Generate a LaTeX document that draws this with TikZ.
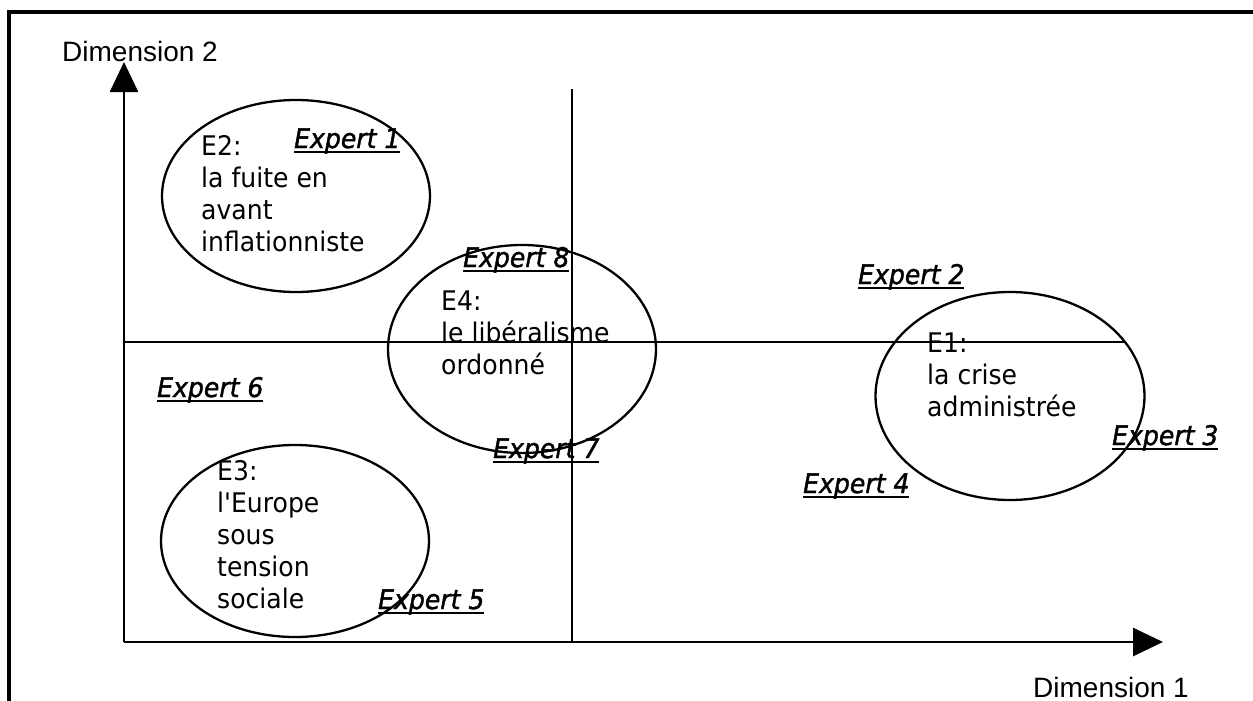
\documentclass[tikz,border=0pt]{standalone}
\usepackage{fontspec}
\setmainfont{DejaVu Sans}[FakeStretch=0.93]
\newfontface\plainfont{DejaVu Sans}[FakeStretch=0.93,Ligatures=ResetAll]
\newfontfamily\dimfont{Liberation Sans}
\newfontface\expfont{DejaVu Sans Oblique}[FakeBold=1.5,FakeStretch=0.93]
\usetikzlibrary{shapes.geometric,arrows.meta}
\newcommand\expul[1]{\setbox0\hbox{\expfont #1}\rlap{\rule[-4.5pt]{\wd0}{2pt}}\box0}
\begin{document}
\begin{tikzpicture}[x=1pt,y=-1pt,
  region/.style={ellipse,draw,line width=2.3pt,inner sep=0},
  lab/.style={anchor=base west,inner sep=0,align=left,font=\fontsize{27}{32}\selectfont},
  expert/.style={anchor=base west,inner sep=0,font=\fontsize{27}{30}\selectfont},
  dim/.style={anchor=base west,inner sep=0,font=\dimfont\fontsize{28}{32}\selectfont},
  axis/.style={line width=2.7pt,-{Triangle[length=30pt,width=28pt]}},
  quad/.style={line width=1.2pt},
  frame/.style={line width=4pt}]
\useasboundingbox (0,0) rectangle (1253,701);
% frame
\draw[frame] (7,12) -- (1253,12);
\draw[frame] (9,10) -- (9,701);
% quadrant lines
\coordinate (qt) at (572,89);
\coordinate (qb) at (572,642);
\coordinate (ql) at (124,342);
\coordinate (qr) at (1125,342);
\draw[quad] (qt) -- (qb);
\draw[quad] (ql) -- (qr);
% axes
\coordinate (o) at (124,642);
\coordinate (ytip) at (124,62);
\coordinate (xtip) at (1163,642);
\draw[axis] (o) -- (ytip);
\draw[axis] (o) -- (xtip);
\node[dim] (d2) at (62,62) {Dimension 2};
\node[dim] (d1) at (1033,697) {Dimension 1};
% regions
\node[region,minimum width=268pt,minimum height=192pt] (e2) at (296,196) {};
\node[region,minimum width=268pt,minimum height=208pt] (e4) at (522,349) {};
\node[region,minimum width=269pt,minimum height=208pt] (e1) at (1010,396) {};
\node[region,minimum width=268pt,minimum height=192pt] (e3) at (295,541) {};
% labels (anchored at the baseline of their last line)
\node[lab] (t2) at (201,251) {E2:\\la fuite en\\avant\\inflationniste};
\node[lab] (t4) at (441,374) {E4:\\le libéralisme\\ordonné};
\node[lab] (t1) at (927,416) {E1:\\la crise\\administrée};
\node[lab] (t3) at (217,608) {E3:\\l{\plainfont\char39}Europe\\sous\\tension\\sociale};
% experts
\node[expert] (x1) at (294,148) {\expul{Expert 1}};
\node[expert] (x8) at (463,267) {\expul{Expert 8}};
\node[expert] (x7) at (493,458) {\expul{Expert 7}};
\node[expert] (x2) at (858,284) {\expul{Expert 2}};
\node[expert] (x3) at (1112,445) {\expul{Expert 3}};
\node[expert] (x4) at (803,493) {\expul{Expert 4}};
\node[expert] (x5) at (378,609) {\expul{Expert 5}};
\node[expert] (x6) at (157,397) {\expul{Expert 6}};
\end{tikzpicture}
\end{document}
